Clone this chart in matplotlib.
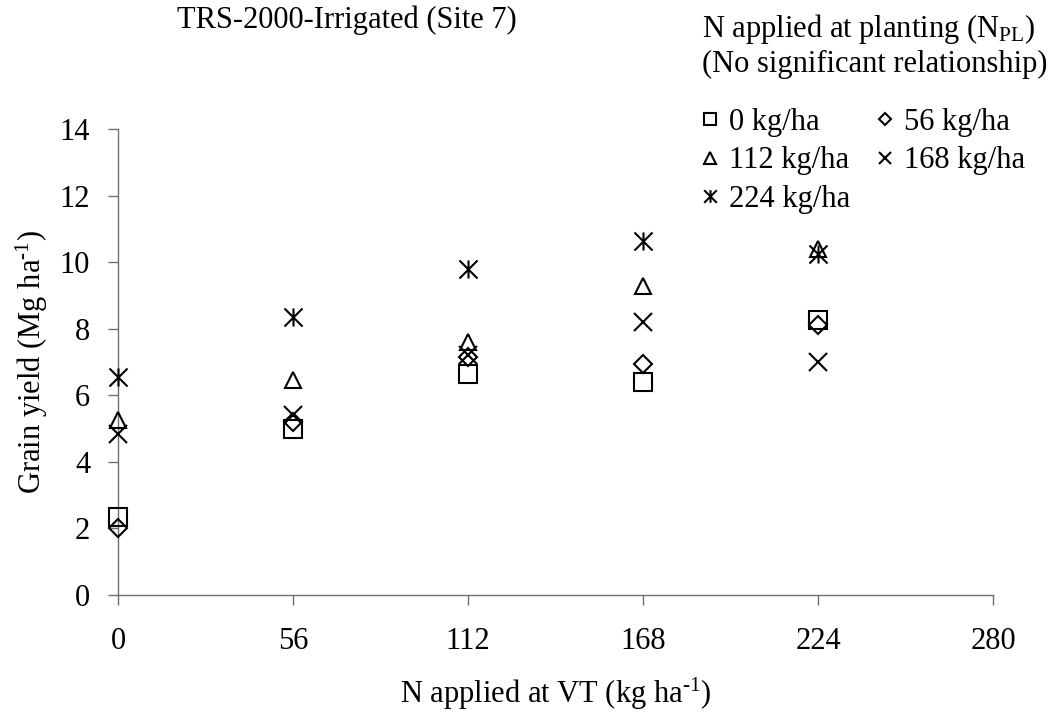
import matplotlib
matplotlib.use("Agg")
import matplotlib.pyplot as plt
from matplotlib.path import Path

# Données (rendement en Mg/ha)
n_vt = [0, 56, 112, 168, 224]
y_pl0 = [2.35, 5.0, 6.65, 6.4, 8.25]
y_pl56 = [2.0, 5.2, 7.15, 6.95, 8.1]
y_pl112 = [5.25, 6.45, 7.6, 9.28, 10.4]
y_pl168 = [4.85, 5.4, 7.2, 8.2, 7.0]
y_pl224 = [6.55, 8.35, 9.8, 10.65, 10.25]
x_ticks = [0, 56, 112, 168, 224, 280]
y_ticks = [0, 2, 4, 6, 8, 10, 12, 14]

plt.rcParams["font.family"] = ["Liberation Serif", "DejaVu Serif"]
plt.rcParams["mathtext.fontset"] = "custom"
plt.rcParams["mathtext.rm"] = "Liberation Serif"
plt.rcParams["mathtext.it"] = "Liberation Serif:italic"
plt.rcParams["font.size"] = 22

# astérisque : un X plus un trait vertical
star = Path([(0, -1), (0, 1), (-1, -1), (1, 1), (-1, 1), (1, -1)],
            [Path.MOVETO, Path.LINETO] * 3)

W, H = 1055, 723
fig = plt.figure(figsize=(W / 100, H / 100), dpi=100)
ax = fig.add_axes([118 / W, 1 - 595 / H, (993 - 118) / W, (595 - 129) / H])

series = [
    (y_pl0, "s", 13, "0 kg/ha"),
    (y_pl56, "D", 9, "56 kg/ha"),
    (y_pl112, "^", 12, "112 kg/ha"),
    (y_pl168, "x", 13, "168 kg/ha"),
    (y_pl224, star, 13, "224 kg/ha"),
]
handles = []
for yv, mk, ms, lab in series:
    h, = ax.plot(n_vt, yv, linestyle="none", marker=mk, markersize=ms,
                 markerfacecolor="none", markeredgecolor="black",
                 markeredgewidth=1.5, label=lab, clip_on=False, zorder=3)
    handles.append(h)

ax.set_xlim(0, 280)
ax.set_ylim(0, 14)
ax.set_xticks(x_ticks)
ax.set_yticks(y_ticks)
ax.spines["top"].set_visible(False)
ax.spines["right"].set_visible(False)
for s in ("left", "bottom"):
    ax.spines[s].set_color("#707070")
    ax.spines[s].set_linewidth(1)
ax.tick_params(direction="out", length=7, width=1, color="#707070",
               labelsize=22)
ax.tick_params(axis="y", pad=13)
ax.tick_params(axis="x", pad=16)

ax.set_xlabel("N applied at VT (kg ha$^{\\text{-1}}$)", fontsize=22, labelpad=14)
ax.set_ylabel("Grain yield (Mg ha$^{\\text{-1}}$)", fontsize=22, labelpad=7)

fig.text(177 / W, 1 - 28 / H, "TRS-2000-Irrigated (Site 7)",
         ha="left", va="baseline", fontsize=22)
fig.text(702 / W, 1 - 37 / H, "N applied at planting (N$_{\\mathrm{PL}}$)",
         ha="left", va="baseline", fontsize=22)
fig.text(702 / W, 1 - 72 / H, "(No significant relationship)",
         ha="left", va="baseline", fontsize=22)

# ordre ligne par ligne comme dans la figure d'origine
order = [0, 2, 4, 1, 3]
leg = ax.legend([handles[i] for i in order], [series[i][3] for i in order],
                ncol=2, loc="upper left",
                bbox_to_anchor=(701 / W, 1 - 108 / H),
                bbox_transform=fig.transFigure, frameon=False,
                fontsize=22, markerscale=0.7, handlelength=0.6,
                handletextpad=0.32, columnspacing=0.82, labelspacing=0.31,
                borderpad=0, borderaxespad=0)

fig.savefig("out.png", dpi=100)
